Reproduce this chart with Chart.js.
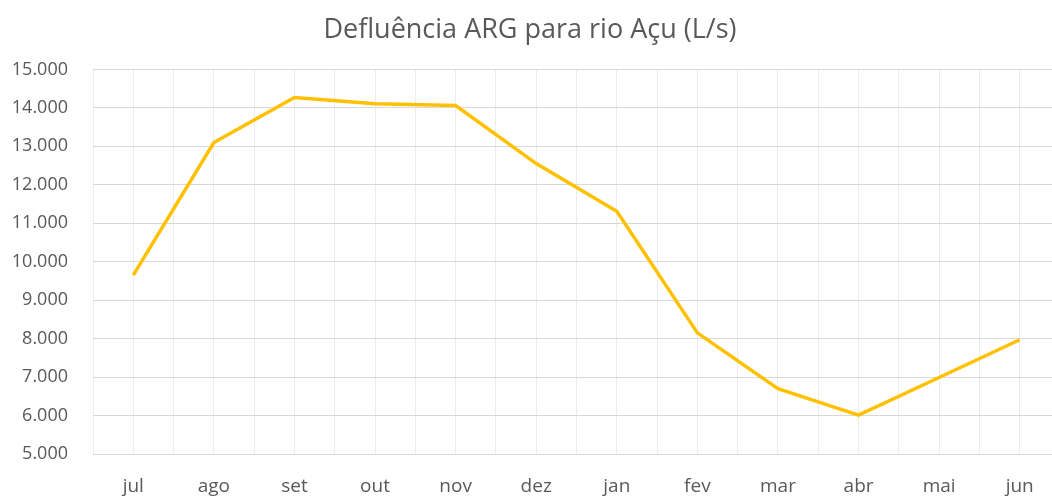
<!DOCTYPE html>
<html>
<head>
<meta charset="utf-8">
<script src="https://cdn.jsdelivr.net/npm/chart.js@4/dist/chart.umd.min.js"></script>
<style>
  html, body { margin: 0; padding: 0; background: #ffffff; overflow: hidden; width: 1052px; height: 496px; }
  #c { position: absolute; left: 0; top: 0; }
</style>
</head>
<body>
<canvas id="c" width="1064" height="510"></canvas>
<script>
const months = ['jul', 'ago', 'set', 'out', 'nov', 'dez', 'jan', 'fev', 'mar', 'abr', 'mai', 'jun'];
const defluencia = [9650, 13100, 14270, 14110, 14060, 12550, 11310, 8150, 6700, 6010, 6990, 7970];
const yTicks = [5000, 6000, 7000, 8000, 9000, 10000, 11000, 12000, 13000, 14000, 15000];
const titleText = 'Defluência ARG para rio Açu (L/s)';

const FONT = "'Open Sans', 'Liberation Sans', sans-serif";
const points = defluencia.map((v, i) => ({ x: i, y: v }));

new Chart(document.getElementById('c'), {
  type: 'line',
  data: {
    datasets: [{
      data: points,
      borderColor: '#FFC000',
      backgroundColor: '#FFC000',
      borderWidth: 3.5,
      pointRadius: 0,
      tension: 0,
      fill: false
    }]
  },
  options: {
    responsive: false,
    animation: false,
    layout: { padding: { left: 0, right: 4, top: 0, bottom: 0 } },
    plugins: {
      legend: { display: false },
      tooltip: { enabled: false },
      title: {
        display: true,
        text: titleText,
        color: '#595959',
        font: { family: FONT, size: 27, weight: 'normal' },
        padding: { top: 14, bottom: 23 }
      }
    },
    scales: {
      x: {
        type: 'linear',
        min: -0.5,
        max: months.length - 0.5,
        afterBuildTicks: (axis) => {
          const t = [];
          for (let k = 0; k <= months.length * 2; k++) t.push({ value: -0.5 + k * 0.5 });
          axis.ticks = t;
        },
        afterFit: (axis) => { axis.height = 56; axis.paddingRight = 0; axis.paddingLeft = 0; },
        ticks: {
          autoSkip: false,
          maxRotation: 0,
          padding: 21,
          color: '#595959',
          font: { family: FONT, size: 19 },
          callback: (v) => Number.isInteger(v) ? months[v] : ''
        },
        grid: { color: '#ececec', lineWidth: 1, drawTicks: false },
        border: { color: '#d9d9d9', width: 1 }
      },
      y: {
        min: 5000,
        max: 15000,
        afterBuildTicks: (axis) => { axis.ticks = yTicks.map(v => ({ value: v })); },
        afterFit: (axis) => { axis.width = 93; },
        ticks: {
          padding: 25,
          color: '#595959',
          font: { family: FONT, size: 18 },
          callback: (v) => v.toLocaleString('de-DE')
        },
        grid: { color: '#d9d9d9', lineWidth: 1, drawTicks: false },
        border: { display: false }
      }
    }
  }
});
</script>
</body>
</html>
